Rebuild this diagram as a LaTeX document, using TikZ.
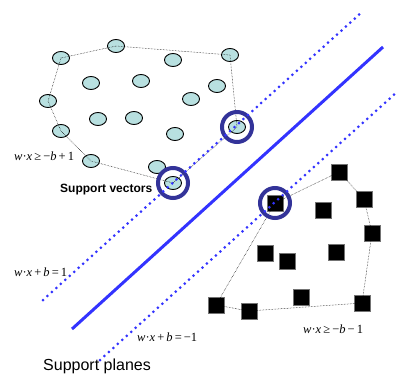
\documentclass[tikz,border=0pt]{standalone}
\usepackage{fontspec}
\setmainfont{Liberation Serif}
\newfontfamily\sansfont{Liberation Sans}
\usetikzlibrary{shapes.geometric}

\definecolor{pointfill}{RGB}{184,224,224}
\definecolor{ringblue}{RGB}{51,51,153}
\definecolor{planeblue}{RGB}{51,51,255}

\tikzset{
	pospoint/.style={ellipse, draw, line width=0.9pt, fill=pointfill, minimum width=17pt, minimum height=13pt, inner sep=0pt},
	negpoint/.style={rectangle, fill=black, draw=black!55, line width=0.4pt, minimum size=16pt, inner sep=0pt},
	hull/.style={densely dotted, line width=0.5pt},
	svring/.style={circle, draw=ringblue, line width=4pt, minimum size=30pt, inner sep=0pt},
	marginline/.style={planeblue, line width=3pt, line cap=round, dash pattern=on 0pt off 6pt},
	planeline/.style={planeblue, line width=3pt},
	eqlabel/.style={anchor=west, inner sep=0pt, font=\fontsize{12.5}{14}\selectfont},
	captionlabel/.style={anchor=west, inner sep=0pt}
}

\begin{document}
\begin{tikzpicture}[x = 1pt, y = -1pt]
	\useasboundingbox (0, 0) rectangle (398, 374);

	% Class +1
	\node[pospoint] (p1) at (116, 46) {};
	\node[pospoint] (p2) at (61, 58) {};
	\node[pospoint] (p3) at (230, 55) {};
	\node[pospoint] (p4) at (173, 60) {};
	\node[pospoint] (p5) at (91, 83) {};
	\node[pospoint] (p6) at (141, 81) {};
	\node[pospoint] (p7) at (217, 86) {};
	\node[pospoint] (p8) at (48, 101) {};
	\node[pospoint] (p9) at (191, 99) {};
	\node[pospoint] (p10) at (98, 119) {};
	\node[pospoint] (p11) at (134, 118) {};
	\node[pospoint] (p12) at (61, 131) {};
	\node[pospoint] (p13) at (175, 134) {};
	\node[pospoint] (p14) at (237, 127) {};
	\node[pospoint] (p15) at (91, 161) {};
	\node[pospoint] (p16) at (157, 167) {};
	\node[pospoint] (p17) at (173, 183) {};

	% Class -1
	\node[negpoint] (n1) at (339, 172) {};
	\node[negpoint] (n2) at (364, 199) {};
	\node[negpoint] (n3) at (323, 210) {};
	\node[negpoint] (n4) at (275, 203) {};
	\node[negpoint] (n5) at (372, 233) {};
	\node[negpoint] (n6) at (265, 253) {};
	\node[negpoint] (n7) at (287, 261) {};
	\node[negpoint] (n8) at (336, 252) {};
	\node[negpoint] (n9) at (301, 297) {};
	\node[negpoint] (n10) at (216, 305) {};
	\node[negpoint] (n11) at (249, 311) {};
	\node[negpoint] (n12) at (362, 303) {};

	% Convex hulls
	\draw[hull] (p2.center) -- (p1.center) -- (p3.center) -- (p14.center) -- (p17.center) -- (p15.center) -- (p12.center) -- (p8.center) -- cycle;
	\draw[hull] (n4.center) -- (n1.center) -- (n2.center) -- (n5.center) -- (n12.center) -- (n11.center) -- (n10.center) -- cycle;

	% Support vectors
	\node[svring] (s1) at (p14) {};
	\node[svring] (s2) at (p17) {};
	\node[svring] (s3) at (n4) {};

	% Planes
	\coordinate (up1) at (43, 300);
	\coordinate (up2) at (362, 12);
	\coordinate (mid1) at (72, 329);
	\coordinate (mid2) at (383, 47);
	\coordinate (lo1) at (100, 360);
	\coordinate (lo2) at (397, 92);
	\draw[marginline] (up1) -- (up2);
	\draw[planeline] (mid1) -- (mid2);
	\draw[marginline] (lo1) -- (lo2);

	% Labels
	\node[eqlabel] (eqpos) at (14, 156) {\textit{w}·\textit{x}\,≥\,−\textit{b}\,+\,1};
	\node[eqlabel] (eqneg) at (303, 329) {\textit{w}·\textit{x}\,≥\,−\textit{b}\,−\,1};
	\node[eqlabel] (equp) at (14, 272) {\textit{w}·\textit{x}\,+\,\textit{b}\,=\,1};
	\node[eqlabel] (eqlo) at (137, 337) {\textit{w}·\textit{x}\,+\,\textit{b}\,=\,−1};
	\node[captionlabel, font=\sansfont\bfseries\fontsize{12}{14}\selectfont] (svlabel) at (60, 190) {Support vectors};
	\node[captionlabel, font=\sansfont\fontsize{16}{18}\selectfont] (planelabel) at (43, 366) {Support planes};
\end{tikzpicture}
\end{document}
